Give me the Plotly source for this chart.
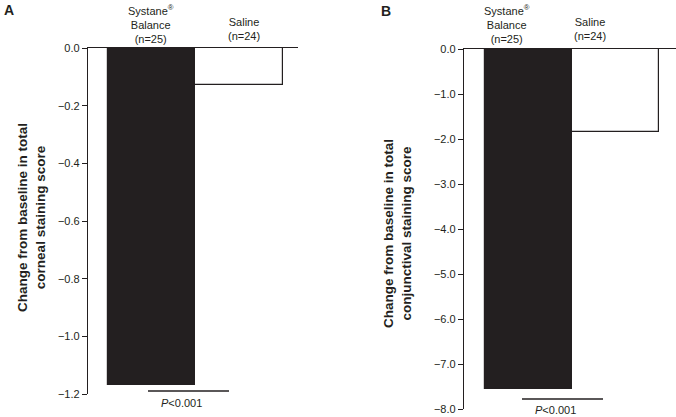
import plotly.graph_objects as go

# data
groups = ["Systane® Balance", "Saline"]
group_labels = ["Systane<sup>®</sup><br>Balance<br>(n=25)", "Saline<br>(n=24)"]
corneal_change = [-1.17, -0.13]
conjunctival_change = [-7.56, -1.84]
corneal_ticks = [0.0, -0.2, -0.4, -0.6, -0.8, -1.0, -1.2]
conjunctival_ticks = [0.0, -1.0, -2.0, -3.0, -4.0, -5.0, -6.0, -7.0, -8.0]

INK = '#231f20'
FONT = 'Liberation Sans, Arial, sans-serif'
W, H = 676, 417


def px(x):
    return x / W


def py(y):
    return 1 - y / H


fig = go.Figure()
fig.add_trace(go.Bar(x=groups, y=corneal_change, width=[1, 1], xaxis='x', yaxis='y',
                     marker={'color': [INK, 'white'], 'line': {'color': INK, 'width': 1.2}},
                     hovertemplate='%{y:.2f}<extra></extra>'))
fig.add_trace(go.Bar(x=groups, y=conjunctival_change, width=[1, 1], xaxis='x2', yaxis='y2',
                     marker={'color': [INK, 'white'], 'line': {'color': INK, 'width': 1.2}},
                     hovertemplate='%{y:.2f}<extra></extra>'))

xcommon = dict(type='category', categoryarray=groups, side='top', showline=True, linecolor=INK,
               linewidth=1.3, showticklabels=False, ticks='', showgrid=False, zeroline=False,
               fixedrange=True, automargin=False)
ycommon = dict(showline=True, linecolor=INK, linewidth=1.3, ticks='outside', ticklen=5, tickcolor=INK,
               tickwidth=1.3, showgrid=False, zeroline=False, automargin=False,
               tickfont={'size': 11, 'color': INK, 'family': FONT})

fig.update_layout(
    xaxis=dict(xcommon, domain=[px(88), px(298)], range=[-0.731, 1.674], anchor='y'),
    yaxis=dict(ycommon, domain=[py(394), py(48)], range=[-1.2, 0], anchor='x',
               tickvals=corneal_ticks, ticktext=[f'{v:.1f}'.replace('-', '−') for v in corneal_ticks]),
    xaxis2=dict(xcommon, domain=[px(464), 1.0], range=[-0.736, 1.70], anchor='y2'),
    yaxis2=dict(ycommon, domain=[py(409), py(49)], range=[-8.0, 0], anchor='x2',
                tickvals=conjunctival_ticks, ticktext=[f'{v:.1f}'.replace('-', '−') for v in conjunctival_ticks]),
    bargap=0, showlegend=False, width=W, height=H, margin=dict(l=0, r=0, t=0, b=0, pad=0),
    plot_bgcolor='white', paper_bgcolor='white', font={'family': FONT, 'color': INK},
)

ann = []
# panel letters
ann.append(dict(x=px(2), y=py(0), text='<b>A</b>', font={'size': 14}))
ann.append(dict(x=px(379), y=py(1), text='<b>B</b>', font={'size': 14}))
# group labels
for cx, cy, lbl in [(151, 1, group_labels[0]), (244, 14, group_labels[1]),
                    (507, 1, group_labels[0]), (590, 14, group_labels[1])]:
    ann.append(dict(x=px(cx), y=py(cy), text=lbl, xanchor='center', font={'size': 11}))
# y axis titles
ann.append(dict(x=px(31), y=py(218), text='<b>Change from baseline in total<br>corneal staining score</b>',
                textangle=-90, xanchor='center', yanchor='middle', font={'size': 13.5}))
ann.append(dict(x=px(397), y=py(233), text='<b>Change from baseline in total<br>conjunctival staining score</b>',
                textangle=-90, xanchor='center', yanchor='middle', font={'size': 13.5}))
# p-values
ann.append(dict(x=px(181), y=py(403), text='<i>P</i>&lt;0.001', xanchor='center', yanchor='middle', font={'size': 11}))
ann.append(dict(x=px(555), y=py(410), text='<i>P</i>&lt;0.001', xanchor='center', yanchor='middle', font={'size': 11}))
for a in ann:
    a.setdefault('xanchor', 'left')
    a.setdefault('yanchor', 'top')
    a.update(xref='paper', yref='paper', showarrow=False)
fig.update_layout(annotations=ann)

fig.add_shape(type='line', xref='paper', yref='paper', x0=px(148), x1=px(229), y0=py(391), y1=py(391),
              line={'color': INK, 'width': 1.3})
fig.add_shape(type='line', xref='paper', yref='paper', x0=px(522), x1=px(603), y0=py(399), y1=py(399),
              line={'color': INK, 'width': 1.3})

fig.write_html("out.html", config={'displayModeBar': False},
               post_script="document.body.style.margin='0';")
